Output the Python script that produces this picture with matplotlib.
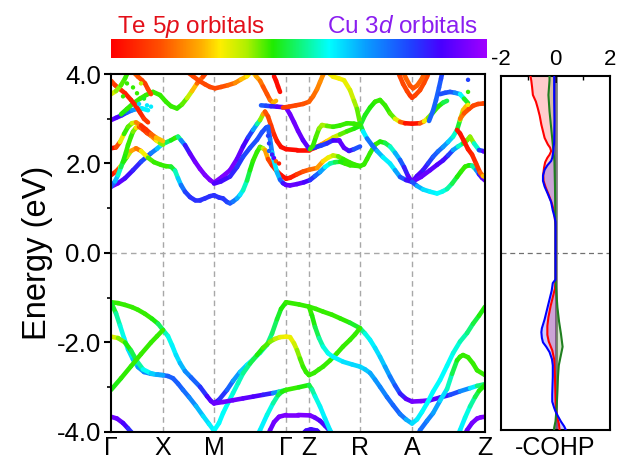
import numpy as np
import matplotlib
matplotlib.use("Agg")
import matplotlib.pyplot as plt
from matplotlib.collections import LineCollection
from matplotlib.colors import LinearSegmentedColormap
from matplotlib.ticker import MultipleLocator, FormatStrFormatter

plt.rcParams['font.family'] = ['Liberation Sans', 'DejaVu Sans']
plt.rcParams['mathtext.fontset'] = 'custom'
plt.rcParams['mathtext.rm'] = 'Liberation Sans'
plt.rcParams['mathtext.it'] = 'Liberation Sans:italic'
plt.rcParams['axes.unicode_minus'] = False

# ---------------- k-path ----------------
kpath_labels = ['Γ', 'X', 'M', 'Γ', 'Z', 'R', 'A', 'Z']
kpath_pos = [0, 52, 103, 175, 198, 249, 301, 374]

# ---------------- colour scale (0 = Te 5p, 1 = Cu 3d) ----------------
cmap_stops = [0.0, 0.13, 0.24, 0.29, 0.36, 0.43, 0.58, 0.68, 0.80, 0.88, 1.0]
cmap_hex = ['#ff0000', '#ff5000', '#ffb000', '#ffee00', '#b0f000', '#20ec00',
            '#00ffff', '#0a9cff', '#2040ff', '#4800ff', '#a000ff']

# ---------------- valence bands (k, E, weight) ----------------
vb_a = [(0,-1.10,.42),(7,-1.12,.42),(14,-1.16,.42),(21,-1.21,.42),(27,-1.27,.42),(34,-1.36,.42),
        (41,-1.47,.42),(47,-1.58,.45),(52,-1.72,.52),(57,-1.86,.56),(61,-2.06,.58),(65,-2.28,.6),
        (69,-2.46,.62),(74,-2.64,.68),(80,-2.78,.72),(89,-2.99,.78),(96,-3.20,.85),(100,-3.31,.9),
        (103,-3.36,.92),(108,-3.28,.85),(116,-3.06,.78),(122,-2.86,.72),(129,-2.66,.65),(136,-2.50,.6),
        (142,-2.38,.58),(149,-2.23,.55),(156,-2.05,.52),(161,-1.80,.5),(166,-1.48,.47),(170,-1.25,.44),
        (175,-1.10,.42)]
vb_b = [(0,-1.10,.42),(5,-1.35,.5),(9,-1.62,.55),(13,-1.90,.58),(17,-2.15,.6),(22,-2.38,.62),
        (27,-2.55,.66),(33,-2.66,.7),(40,-2.70,.72),(47,-2.72,.74),(52,-2.73,.74),(57,-2.75,.75),
        (62,-2.80,.76),(67,-2.92,.76),(72,-3.06,.75),(78,-3.22,.72),(85,-3.42,.68),(92,-3.64,.62),
        (98,-3.82,.6),(103,-3.97,.58),(108,-3.80,.58),(112,-3.58,.58),(117,-3.35,.57),(122,-3.13,.56),
        (127,-2.91,.55),(132,-2.69,.53),(139,-2.47,.5),(146,-2.28,.45),(152,-2.12,.42),(159,-1.98,.4),
        (164,-1.92,.36),(169,-1.88,.32),(175,-1.87,.3)]
vb_c = [(0,-1.87,.3),(7,-1.90,.35),(14,-2.00,.42),(20,-2.18,.45),(26,-2.42,.5),(32,-2.60,.55),
        (40,-2.69,.6),(46,-2.72,.65),(52,-2.73,.68)]
vb_d = [(0,-3.06,.45),(10,-2.80,.43),(20,-2.53,.42),(30,-2.26,.42),(40,-2.00,.42),(46,-1.86,.42),
        (52,-1.72,.42)]
vb_e = [(0,-3.66,.93),(6,-3.70,.93),(12,-3.80,.9),(17,-3.92,.85),(21,-4.02,.8),(25,-4.15,.78)]
vb_f = [(103,-3.36,.92),(112,-3.33,.93),(122,-3.29,.93),(132,-3.25,.92),(142,-3.21,.9),(152,-3.17,.88),
        (162,-3.13,.8),(168,-3.10,.6),(175,-3.06,.45)]
vb_g = [(145,-4.15,.6),(149,-3.96,.6),(156,-3.62,.58),(162,-3.36,.55),(167,-3.18,.5),(171,-3.10,.45),
        (175,-3.06,.42)]
vb_h = [(156,-4.15,.9),(159,-3.96,.92),(163,-3.78,.93),(168,-3.66,.94),(175,-3.62,.95),(187,-3.62,.95),
        (199,-3.63,.95),(204,-3.68,.93),(209,-3.75,.9),(214,-3.86,.88),(219,-3.98,.85),(222,-4.1,.85)]
vb_i = [(190,-4.08,.86),(195,-3.97,.87),(200,-3.94,.87),(206,-3.97,.87),(211,-4.08,.86)]
vb_j = [(175,-1.10,.42),(188,-1.15,.42),(198,-1.20,.42),(205,-1.25,.42),(212,-1.31,.42),(221,-1.38,.42),
        (229,-1.46,.42),(239,-1.56,.43),(249,-1.68,.48),(254,-1.80,.55),(259,-1.94,.58),(264,-2.12,.6),
        (269,-2.32,.62),(274,-2.54,.65),(279,-2.76,.7),(284,-2.96,.75),(289,-3.14,.8),(295,-3.26,.88),
        (301,-3.32,.93),(310,-3.31,.95),(319,-3.29,.93),(329,-3.23,.88),(339,-3.17,.82),(349,-3.09,.75),
        (359,-3.02,.65),(366,-2.97,.55),(374,-2.93,.45)]
vb_k = [(175,-1.87,.3),(179,-1.88,.3),(183,-2.02,.32),(186,-2.17,.35),(189,-2.36,.4),(192,-2.54,.42),
        (195,-2.66,.42),(198,-2.73,.42),(203,-2.68,.42),(208,-2.60,.42),(212,-2.54,.42),(219,-2.40,.42),
        (226,-2.24,.42),(232,-2.09,.42),(239,-1.94,.42),(244,-1.82,.42),(249,-1.68,.42)]
vb_l = [(198,-1.20,.42),(201,-1.40,.42),(204,-1.65,.45),(208,-1.90,.5),(212,-2.09,.55),(217,-2.24,.57),
        (222,-2.32,.58),(232,-2.43,.6),(241,-2.49,.62),(249,-2.54,.62),(254,-2.60,.62),(259,-2.68,.65),
        (264,-2.83,.68),(269,-2.99,.7),(276,-3.22,.72),(282,-3.40,.75),(289,-3.60,.75),(295,-3.72,.7),
        (301,-3.81,.62),(306,-3.72,.6),(311,-3.55,.58),(316,-3.36,.58),(322,-3.10,.58),(329,-2.84,.58),
        (336,-2.52,.58),(342,-2.24,.57),(349,-1.98,.55),(356,-1.79,.52),(362,-1.58,.48),(368,-1.40,.45),
        (374,-1.20,.42)]
vb_m = [(306,-4.15,.75),(309,-3.96,.75),(316,-3.75,.72),(322,-3.58,.7),(329,-3.30,.65),(336,-3.04,.58),
        (341,-2.70,.5),(346,-2.40,.45),(349,-2.32,.42),(352,-2.28,.42),(357,-2.33,.42),(362,-2.47,.42),
        (366,-2.62,.42),(374,-2.73,.42)]
vb_n = [(346,-4.15,.6),(349,-3.96,.6),(354,-3.68,.58),(359,-3.43,.55),(364,-3.22,.5),(368,-3.08,.45),
        (374,-2.95,.42)]
vb_o = [(175,-3.06,.42),(188,-3.00,.42),(198,-2.95,.45),(201,-3.05,.5),(204,-3.20,.55),(209,-3.43,.58),
        (214,-3.70,.6),(219,-3.96,.6),(222,-4.12,.6)]
vb_p = [(352,-4.15,.9),(356,-3.96,.92),(361,-3.80,.93),(366,-3.70,.95),(370,-3.67,.95),(374,-3.66,.95)]

# ---------------- conduction bands (k, E, weight) ----------------
cb_a = [(0,1.48,.95),(7,1.56,.93),(14,1.67,.88),(22,1.85,.85),(30,2.04,.82),(40,2.23,.75),(46,2.33,.68),
        (50,2.41,.6),(55,2.47,.52),(60,2.52,.45),(64,2.57,.42),(67,2.60,.42),(70,2.52,.6),(74,2.41,.8),
        (79,2.22,.9),(84,2.04,.93),(89,1.88,.95),(94,1.74,.95),(99,1.63,.95),(103,1.57,.95),(111,1.70,.95),
        (119,1.85,.95),(126,2.10,.93),(132,2.38,.9),(137,2.58,.85),(142,2.75,.75),(146,2.88,.6),
        (149,2.97,.45),(152,3.10,.3),(154,3.16,.15),(157,3.05,.12),(160,2.85,.1),(163,2.65,.08),
        (166,2.50,.05),(170,2.37,.03),(175,2.32,.02),(186,2.30,.02),(198,2.30,.02),(204,2.35,.1),
        (210,2.42,.18),(216,2.50,.25),(222,2.58,.3),(229,2.65,.38),(236,2.72,.42),(243,2.78,.42),
        (249,2.84,.45),(254,3.08,.45),(259,3.25,.44),(264,3.38,.42),(269,3.42,.42),(274,3.30,.42),
        (279,3.12,.42),(284,3.00,.38),(289,2.93,.25),(294,2.90,.05),(301,2.89,.02),(309,2.90,.05),
        (313,2.94,.25),(317,3.02,.35),(322,3.14,.42),(327,3.27,.42),(332,3.36,.45),(336,3.40,.5)]
cb_b = [(0,1.74,.03),(5,1.82,.05),(9,1.92,.2),(12,2.02,.42),(16,2.15,.42),(20,2.28,.3),(25,2.34,.15),
        (30,2.28,.2),(37,2.13,.4),(43,2.03,.42),(50,1.97,.42),(55,1.94,.42),(60,1.93,.42),(64,1.84,.5),
        (67,1.67,.58),(70,1.52,.68),(74,1.37,.78),(79,1.25,.82),(84,1.18,.82),(89,1.18,.82),(94,1.22,.82),
        (99,1.27,.82),(103,1.29,.82),(108,1.24,.82),(112,1.22,.82),(116,1.14,.8),(119,1.11,.78),
        (122,1.15,.75),(126,1.22,.7),(129,1.30,.62),(132,1.40,.58),(136,1.62,.5),(139,1.85,.45),
        (142,2.06,.42),(146,2.26,.42),(149,2.37,.42),(152,2.34,.38),(154,2.30,.3),(157,2.10,.15),
        (161,1.96,.08),(165,1.85,.05),(170,1.74,.03),(175,1.66,.02),(179,1.68,.02),(186,1.76,.08),
        (192,1.82,.12),(198,1.86,.15),(206,1.90,.18),(212,2.05,.25),(217,2.13,.3),(222,2.18,.32),
        (227,2.16,.38),(232,2.10,.42),(238,2.03,.42),(243,1.98,.42),(249,1.94,.42),(253,1.98,.42),
        (256,2.10,.42),(259,2.23,.42),(264,2.42,.42),(269,2.49,.42),(274,2.46,.45),(279,2.38,.5),
        (284,2.24,.6),(289,2.08,.72),(293,1.92,.8),(297,1.72,.88),(301,1.59,.93)]
cb_c = [(103,1.55,.9),(110,1.60,.88),(119,1.71,.85),(126,1.92,.82),(132,2.15,.8),(139,2.35,.78),
        (146,2.53,.78),(151,2.70,.78),(155,2.80,.78),(157,2.82,.78),(159,2.55,.75),(161,2.25,.68),
        (163,2.05,.6),(166,1.80,.6),(169,1.64,.7),(172,1.56,.82),(175,1.52,.9),(179,1.51,.92),
        (186,1.54,.92),(193,1.58,.9),(199,1.63,.85),(204,1.72,.78),(209,1.81,.72),(214,1.92,.62),
        (219,2.00,.55),(224,2.03,.5),(229,2.04,.45),(234,2.00,.42),(239,1.96,.42),(245,1.95,.42),
        (249,1.94,.42)]
cb_d = [(0,1.48,.8),(4,1.60,.7),(7,1.74,.6),(10,1.92,.5),(12,2.04,.45),(15,2.25,.42),(17,2.41,.42),
        (20,2.60,.42),(22,2.71,.42),(25,2.80,.35),(28,2.82,.2),(32,2.76,.08),(36,2.68,.1),(40,2.62,.15),
        (45,2.52,.25),(49,2.46,.35),(52,2.42,.42)]
cb_e = [(0,2.34,.03),(5,2.36,.05),(9,2.48,.2),(13,2.66,.42),(17,2.82,.42),(21,2.90,.38),(25,2.92,.28),
        (30,2.85,.1),(35,2.76,.05),(40,2.66,.12),(45,2.58,.2),(52,2.50,.3)]
cb_f = [(0,2.97,.92),(5,3.02,.9),(11,3.08,.85),(16,3.14,.78),(21,3.19,.72),(26,3.22,.65),(31,3.23,.6),
        (37,3.19,.58)]
cb_g = [(10,3.10,.45),(16,3.22,.42),(22,3.34,.42),(29,3.45,.42),(35,3.53,.42),(42,3.60,.42),(49,3.53,.42),
        (55,3.38,.42),(60,3.28,.42),(66,3.23,.42),(71,3.32,.42),(76,3.46,.38),(81,3.62,.3),(86,3.79,.2),
        (92,3.94,.12),(96,4.05,.1)]
cb_h = [(76,4.05,.12),(82,3.95,.12),(88,3.85,.12),(94,3.77,.12),(99,3.71,.12),(104,3.68,.12),
        (110,3.71,.12),(117,3.75,.14),(124,3.80,.18),(130,3.88,.22),(136,3.95,.28),(140,4.05,.3)]
cb_i = [(0,3.85,.12),(4,3.75,.1),(8,3.68,.08),(14,3.57,.05),(20,3.42,.05),(25,3.28,.05),(29,3.14,.05),
        (33,3.00,.08),(37,2.92,.1)]
cb_j = [(22,4.05,.15),(27,3.94,.15),(31,3.86,.12),(34,3.79,.1),(37,3.66,.1),(40,3.55,.12)]
cb_k = [(0,3.55,.3),(5,3.62,.35),(10,3.75,.4),(14,3.90,.42),(17,4.05,.42)]
cb_l = [(140,4.10,.3),(145,3.95,.25),(149,3.85,.2),(152,3.72,.15),(156,3.55,.12),(159,3.42,.15),
        (162,3.36,.2),(165,3.40,.28)]
cb_m = [(163,3.95,.03),(165,3.85,.02),(167,3.72,.02),(169,3.60,.03)]
cb_n = [(150,3.30,.75),(155,3.29,.78),(160,3.28,.8),(166,3.27,.88),(171,3.26,.92),(175,3.25,.93),
        (179,3.10,.93),(183,2.92,.93),(187,2.73,.93),(192,2.52,.92),(198,2.33,.9),(204,2.36,.82),
        (210,2.40,.8),(216,2.45,.8),(222,2.52,.85),(228,2.52,.9),(233,2.35,.92),(238,2.28,.9),
        (243,2.32,.8),(249,2.38,.75)]
cb_o = [(172,3.25,.1),(178,3.27,.1),(185,3.30,.12),(192,3.33,.12),(198,3.38,.15),(202,3.50,.15),
        (206,3.66,.18),(209,3.82,.2),(212,3.98,.2),(214,4.10,.2)]
cb_p = [(215,4.10,.3),(219,4.00,.3),(222,3.94,.3),(228,3.90,.3),(233,3.86,.3),(239,3.64,.32),(243,3.40,.35),
        (246,3.22,.38),(249,2.90,.42),(252,2.72,.5),(256,2.56,.68),(261,2.41,.78),(266,2.28,.7),
        (272,2.14,.6),(279,2.00,.58),(284,1.85,.62),(289,1.70,.72),(295,1.63,.82),(301,1.59,.9)]
cb_q = [(199,2.32,.42),(202,2.40,.42),(205,2.60,.42),(208,2.78,.4),(211,2.86,.35),(216,2.84,.38),
        (222,2.82,.42),(229,2.85,.42),(236,2.90,.42),(243,2.89,.42),(249,2.86,.42)]
cb_r = [(301,1.59,.9),(306,1.72,.9),(312,1.85,.88),(317,2.00,.82),(322,2.15,.78),(327,2.27,.75),
        (332,2.37,.72),(337,2.48,.65),(342,2.60,.6),(346,2.75,.5),(349,2.97,.42),(352,3.19,.3),(355,3.28,.2)]
cb_s = [(301,1.59,.92),(310,1.70,.92),(319,1.85,.92),(326,1.97,.9),(332,2.07,.88),(337,2.18,.85),
        (342,2.30,.75),(347,2.38,.6),(352,2.45,.5),(356,2.52,.42),(359,2.60,.35),(363,2.45,.4),
        (368,2.30,.7),(372,2.28,.9),(374,2.28,.92)]
cb_t = [(301,1.59,.85),(306,1.50,.7),(312,1.42,.62),(319,1.37,.6),(326,1.33,.58),(331,1.37,.58),
        (336,1.43,.55),(341,1.55,.5),(346,1.70,.45),(350,1.82,.42),(354,1.93,.42),(358,1.96,.42),
        (361,1.95,.45),(365,1.86,.6),(368,1.76,.8),(371,1.68,.9),(374,1.62,.93)]
cb_u = [(346,2.75,.05),(349,2.67,.03),(353,2.50,.03),(357,2.32,.05),(361,2.20,.05),(365,2.00,.08),
        (369,1.80,.1),(372,1.72,.2),(374,1.70,.3)]
cb_v = [(349,3.00,.2),(353,3.12,.15),(358,3.22,.12),(362,3.29,.12),(367,3.33,.12),(372,3.34,.12),
        (374,3.35,.12)]
cb_w = [(318,2.95,.75),(322,3.18,.75),(325,3.42,.75),(328,3.70,.75),(330,3.90,.78),(332,4.10,.8)]
cb_x = [(329,3.55,.78),(334,3.58,.78),(339,3.60,.78),(344,3.58,.75),(349,3.55,.65),(353,3.45,.5),
        (357,3.35,.4)]
cb_y = [(286,4.10,.12),(289,3.94,.12),(292,3.78,.12),(296,3.62,.12),(299,3.52,.1),(301,3.47,.08),
        (304,3.52,.1),(309,3.64,.12),(313,3.80,.12),(316,3.94,.12),(319,4.10,.12)]
cb_z = [(291,4.10,.15),(295,3.90,.15),(299,3.74,.15),(302,3.68,.12),(306,3.74,.15),(311,3.90,.15),
        (314,4.05,.15)]

scatter_dots = [(16,3.79,.42),(22,3.70,.42),(26,3.57,.42),(30,3.79,.35),(33,3.45,.45),(12,3.50,.42),
                (36,3.30,.6),(40,3.27,.6),(28,3.33,.62),(157,2.62,.8),(158,2.45,.8),(158,2.28,.75),
                (161,2.20,.85),(163,2.12,.9),(165,2.05,.15),(168,2.00,.05),
                (357,3.87,.8),(357,3.60,.42),(357,3.31,.3)]

bands = [vb_a, vb_b, vb_c, vb_d, vb_e, vb_f, vb_g, vb_h, vb_i, vb_j, vb_k, vb_l, vb_m, vb_n, vb_o, vb_p,
         cb_a, cb_b, cb_c, cb_d, cb_e, cb_f, cb_g, cb_h, cb_i, cb_j, cb_k, cb_l, cb_m, cb_n, cb_o, cb_p,
         cb_q, cb_r, cb_s, cb_t, cb_u, cb_v, cb_w, cb_x, cb_y, cb_z]

# ---------------- -COHP (E, value) ----------------
cohp_red = [(4.0,-0.92),(3.90,-0.89),(3.75,-0.86),(3.57,-0.83),(3.42,-0.72),(3.27,-0.65),(3.10,-0.58),
            (2.90,-0.52),(2.75,-0.46),(2.60,-0.40),(2.45,-0.28),(2.38,-0.20),(2.30,-0.16),(2.22,-0.22),
            (2.15,-0.30),(2.05,-0.38),(1.93,-0.42),(1.78,-0.45),(1.63,-0.44),(1.48,-0.36),(1.33,-0.26),
            (1.20,-0.18),(1.11,-0.13),(0.95,-0.06),(0.81,-0.03),(0.60,0.0),(-0.60,0.0),(-0.80,-0.02),
            (-1.00,-0.10),(-1.20,-0.18),(-1.45,-0.26),(-1.65,-0.30),(-1.85,-0.30),(-2.00,-0.25),
            (-2.20,-0.12),(-2.40,-0.05),(-2.80,-0.02),(-3.40,0.0),(-3.70,0.05),(-3.85,0.12),(-4.0,0.15)]
cohp_blue = [(4.0,-0.05),(3.5,-0.05),(3.0,-0.04),(2.5,-0.05),(2.30,-0.08),(2.15,-0.12),(2.08,-0.16),
             (1.98,-0.30),(1.88,-0.40),(1.75,-0.46),(1.63,-0.46),(1.50,-0.40),(1.33,-0.28),(1.15,-0.16),
             (0.96,-0.10),(0.80,-0.03),(0.70,0.0),(-0.60,0.0),(-0.68,-0.10),(-0.85,-0.14),(-1.05,-0.22),
             (-1.30,-0.32),(-1.50,-0.40),(-1.70,-0.50),(-1.79,-0.52),(-1.92,-0.50),(-2.02,-0.46),
             (-2.12,-0.34),(-2.24,-0.22),(-2.40,-0.13),(-2.54,-0.10),(-2.80,-0.10),(-2.99,-0.11),
             (-3.20,-0.12),(-3.36,-0.12),(-3.50,-0.05),(-3.58,0.0),(-3.70,0.10),(-3.81,0.20),
             (-3.92,0.32),(-4.0,0.38)]
cohp_green = [(4.0,-0.22),(3.9,-0.22),(3.57,-0.26),(3.2,-0.22),(2.83,-0.16),(2.45,-0.10),(2.08,-0.04),
              (1.5,-0.02),(0.5,0.0),(-0.6,0.0),(-0.8,0.02),(-1.23,0.07),(-1.55,0.13),(-1.83,0.20),
              (-2.12,0.26),(-2.30,0.20),(-2.54,0.12),(-2.80,0.09),(-3.13,0.07),(-3.50,0.04),(-3.80,0.0),
              (-3.95,-0.05),(-4.0,-0.05)]

# ---------------- figure ----------------
fig = plt.figure(figsize=(6.24, 4.66), dpi=100)
cmap = LinearSegmentedColormap.from_list('orb', list(zip(cmap_stops, cmap_hex)))

ax = fig.add_axes([0.1779, 0.0730, 0.5994, 0.7682])
ax.set_xlim(kpath_pos[0], kpath_pos[-1])
ax.set_ylim(-4, 4)

for p in kpath_pos[1:-1]:
    ax.axvline(p, color='#a8a8a8', lw=1.0, ls=(0, (4, 3)), zorder=1)
ax.axhline(0, color='#a8a8a8', lw=1.0, ls=(0, (4, 3)), zorder=1)

for band in bands:
    arr = np.array(band, dtype=float)
    pts = arr[:, :2].reshape(-1, 1, 2)
    segs = np.concatenate([pts[:-1], pts[1:]], axis=1)
    wmid = 0.5 * (arr[:-1, 2] + arr[1:, 2])
    lc = LineCollection(segs, colors=cmap(wmid), linewidths=3.3, capstyle='round',
                        joinstyle='round', zorder=2)
    ax.add_collection(lc)

dots = np.array(scatter_dots)
ax.scatter(dots[:, 0], dots[:, 1], c=cmap(dots[:, 2]), s=10, zorder=3, linewidths=0)

ax.set_xticks(kpath_pos)
ax.set_xticklabels(kpath_labels)
ax.tick_params(axis='x', length=0, pad=3, labelsize=18)
ax.yaxis.set_major_locator(MultipleLocator(2.0))
ax.yaxis.set_minor_locator(MultipleLocator(1.0))
ax.yaxis.set_major_formatter(FormatStrFormatter('%.1f'))
ax.tick_params(axis='y', which='major', direction='out', length=5, width=1.5, labelsize=18.5, pad=2)
ax.tick_params(axis='y', which='minor', direction='out', length=3, width=1.2)
ax.set_ylabel('Energy (eV)', fontsize=23.5, labelpad=3)
for s in ax.spines.values():
    s.set_linewidth(1.5)

# ---------------- colour bar ----------------
cax = fig.add_axes([0.1779, 0.8755, 0.6010, 0.0408])
grad = np.linspace(0, 1, 512).reshape(1, -1)
cax.imshow(grad, aspect='auto', cmap=cmap, extent=[0, 1, 0, 1])
cax.set_axis_off()
fig.text(0.187, 0.930, 'Te 5$\\mathit{p}$ orbitals', color='#e3101a', fontsize=17.5, va='baseline', ha='left')
fig.text(0.765, 0.930, 'Cu 3$\\mathit{d}$ orbitals', color='#8a1ef0', fontsize=17.5, va='baseline', ha='right')

# ---------------- COHP panel ----------------
ax2 = fig.add_axes([0.8029, 0.0773, 0.1747, 0.7597])
ax2.set_xlim(-2, 2)
ax2.set_ylim(-4, 4)
ax2.axhline(0, color='#707070', lw=0.9, ls=(0, (4, 3)), zorder=1)
ax2.axvline(0, color='#808080', lw=2.0, zorder=1)
for data, lc_, fc in [(cohp_red, 'red', '#ff0000'), (cohp_green, '#1f7f1f', '#3a7d00'),
                      (cohp_blue, 'blue', '#0000ff')]:
    arr = np.array(data)
    ax2.fill_betweenx(arr[:, 0], 0, arr[:, 1], color=fc, alpha=0.2, lw=0, zorder=2)
    ax2.plot(arr[:, 1], arr[:, 0], color=lc_, lw=1.5, zorder=3)
ax2.xaxis.tick_top()
ax2.set_xticks([-2, 0, 2])
ax2.set_xticklabels(['-2', '0', '2'])
ax2.xaxis.set_minor_locator(MultipleLocator(1.0))
ax2.tick_params(axis='x', which='major', direction='in', length=5, width=1.2, labelsize=16, pad=4)
ax2.tick_params(axis='x', which='minor', direction='in', length=3, width=1.0)
ax2.set_yticks([])
ax2.xaxis.set_label_position('bottom')
ax2.set_xlabel('-COHP', fontsize=18, labelpad=4)
for s in ax2.spines.values():
    s.set_linewidth(1.5)

fig.savefig('out.png', dpi=100)
